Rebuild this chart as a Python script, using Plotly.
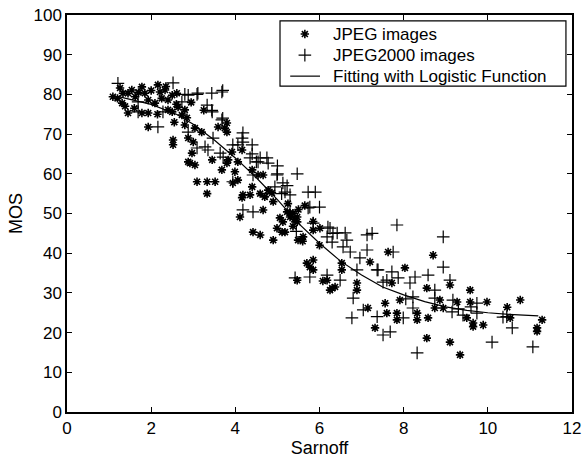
import plotly.graph_objects as go

# JPEG images (asterisk markers)
jpeg_x = [1.09, 1.26, 1.33, 1.31, 1.45, 1.54, 1.62, 1.45, 1.78, 1.93, 1.93, 1.78, 1.85, 1.93, 2.09,
          2.16, 2.21, 2.33, 2.40, 2.50, 2.61, 2.40, 2.50, 2.64, 2.80, 2.73, 2.85, 2.80, 3.04, 3.20,
          3.59, 3.75, 2.52, 2.52, 2.88, 3.00, 2.97, 3.45, 3.04, 2.92, 3.68, 3.80, 3.09, 3.33, 3.52,
          3.33, 2.88, 1.38, 1.70, 2.00, 2.25, 1.60, 2.15, 2.55, 2.60, 1.20, 2.35, 2.95, 3.25,
          3.80, 3.80, 4.16, 3.92, 3.83, 4.06, 3.99, 4.06, 3.94, 4.40, 4.54, 4.66, 4.40, 4.18, 4.35,
          4.78, 4.87, 4.70, 4.16, 4.59, 4.90, 5.23, 5.30, 5.37, 5.13, 5.11, 5.47, 5.37, 5.49, 5.61,
          5.85, 6.01, 6.00, 4.11, 4.66, 4.42, 4.59, 4.90, 4.99, 5.06, 5.18, 5.30, 5.47, 5.70, 5.85,
          5.77, 5.85, 5.47, 5.85, 5.60, 6.08, 6.25, 6.53, 6.53, 6.18, 6.37, 6.30, 6.89, 6.89, 7.20,
          7.15, 7.32, 7.56, 7.60, 7.63, 7.72, 7.91, 7.84, 7.84, 8.03, 8.32, 8.32, 8.55, 8.58, 8.55,
          8.70, 8.86, 8.74, 8.94, 9.10, 9.27, 9.10, 9.34, 9.50, 9.58, 9.58, 9.65, 9.65, 9.89, 9.98,
          10.46, 10.53, 10.77, 11.17, 11.17, 11.29, 5.65, 5.50, 5.25, 5.40]
jpeg_y = [79.4, 81.6, 80.3, 77.8, 80.3, 81.1, 79.4, 75.3, 75.3, 75.3, 71.8, 81.9, 80.3, 78.6, 77.8,
          82.4, 80.6, 81.1, 78.6, 79.8, 80.3, 76.1, 75.6, 76.8, 76.1, 74.8, 74.1, 72.3, 71.5, 70.5,
          71.8, 71.5, 68.5, 67.3, 69.0, 68.0, 65.2, 63.5, 62.2, 62.7, 61.0, 62.7, 58.0, 58.0, 58.0,
          55.0, 63.0, 77.0, 80.5, 81.0, 79.0, 76.5, 75.0, 73.0, 77.5, 79.0, 82.0, 78.0, 76.0,
          72.8, 70.5, 66.0, 65.5, 63.5, 63.0, 60.5, 58.4, 57.7, 61.0, 59.7, 59.7, 56.7, 54.7, 54.7,
          55.9, 55.2, 54.2, 54.0, 55.0, 53.0, 50.4, 49.1, 50.1, 47.9, 45.3, 47.9, 46.8, 43.3, 44.1,
          45.8, 46.3, 42.0, 49.1, 50.9, 45.3, 44.6, 43.3, 46.3, 48.9, 45.3, 50.1, 49.1, 37.5, 38.3,
          36.5, 35.8, 33.2, 48.0, 43.0, 33.0, 30.7, 37.5, 35.8, 33.2, 31.5, 31.2, 32.5, 30.7, 37.8,
          26.2, 21.2, 27.4, 24.9, 40.3, 32.5, 28.2, 24.9, 23.2, 36.3, 24.9, 23.2, 31.2, 23.7, 18.6,
          39.5, 28.2, 26.2, 26.2, 32.0, 27.7, 17.6, 14.4, 23.7, 30.7, 27.7, 22.4, 21.5, 21.9, 27.7,
          26.4, 23.7, 28.2, 21.2, 20.3, 23.2, 52.0, 51.0, 52.5, 48.5]

# JPEG2000 images (plus markers)
j2k_x = [1.21, 1.69, 1.69, 2.16, 2.52, 2.28, 2.73, 2.88, 3.11, 3.44, 3.68, 3.33, 3.45, 2.88, 3.68,
         3.94, 3.09, 3.28, 3.35, 3.64, 3.71, 3.94, 2.80, 3.09, 3.70, 3.44, 3.70, 3.47, 4.16,
         4.18, 4.18, 4.40, 4.06, 4.35, 4.54, 4.75, 4.78, 4.40, 4.59, 5.00, 5.47, 5.00, 4.50, 4.42,
         4.99, 4.94, 5.13, 5.18, 5.30, 5.73, 5.90, 5.23, 5.10, 5.77, 6.00, 4.75, 4.18, 4.42,
         5.73, 5.85, 6.18, 6.20, 6.32, 6.25, 6.42, 6.61, 6.65, 6.56, 6.73, 6.30, 5.77, 5.42, 6.18,
         6.49, 6.80, 6.77, 6.96, 7.13, 7.13, 7.25, 7.39, 6.89, 7.37, 7.04, 7.37, 7.51, 7.68, 7.75,
         7.84, 7.51, 7.72, 7.87, 7.60, 7.99, 8.15, 8.27, 8.22, 8.22, 8.58, 8.32, 8.94, 8.94, 8.74,
         8.74, 9.10, 9.17, 9.15, 9.41, 9.74, 9.74, 10.10, 10.36, 10.58, 11.07, 5.30, 5.45, 8.05,
         9.30, 9.60, 10.45]
j2k_y = [82.8, 78.1, 75.6, 71.8, 82.9, 75.6, 78.1, 79.8, 80.3, 80.3, 80.6, 77.3, 75.6, 70.5, 73.6,
         67.3, 66.5, 66.8, 66.0, 65.2, 64.2, 58.0, 80.0, 80.0, 81.0, 76.0, 74.0, 69.0, 69.0,
         68.0, 70.3, 67.3, 67.3, 64.0, 63.0, 64.0, 62.7, 65.0, 64.0, 62.0, 60.0, 60.0, 63.0, 59.7,
         59.7, 56.7, 57.7, 55.4, 54.7, 55.4, 55.4, 57.0, 55.0, 51.6, 51.6, 55.0, 50.9, 50.4,
         51.4, 47.6, 44.1, 46.6, 45.0, 46.3, 45.1, 45.1, 43.3, 41.6, 40.3, 42.8, 34.0, 33.8, 34.5,
         33.2, 28.7, 23.7, 38.8, 40.8, 44.6, 45.0, 35.8, 35.8, 35.8, 25.7, 24.0, 19.4, 20.2, 40.3,
         47.1, 32.7, 35.3, 33.8, 33.2, 23.7, 32.5, 34.0, 29.0, 26.2, 34.5, 14.9, 44.1, 36.5, 30.7,
         28.7, 33.2, 28.2, 25.2, 24.4, 27.4, 24.9, 17.6, 23.9, 21.2, 16.4, 50.5, 45.5, 28.5,
         26.0, 26.5, 24.0]

# Logistic fit curve
fit_x = [1.2, 2.0, 2.6, 3.0, 3.5, 4.0, 4.5, 5.0, 5.5, 6.0, 6.5, 7.0, 7.5, 8.0, 8.5, 9.0, 9.5, 10.0, 10.5, 11.2]
fit_y = [79.5, 77.5, 75.0, 72.5, 68.5, 64.0, 59.0, 53.5, 47.5, 42.5, 38.0, 34.5, 31.5, 29.5, 27.8, 26.5, 25.6, 25.0, 24.6, 24.2]

series_names = ["JPEG images", "JPEG2000 images", "Fitting with Logistic Function"]

FONT = "Liberation Sans, Arial, Helvetica, sans-serif"
AST = dict(symbol="asterisk-open", size=7, color="black", line=dict(color="black", width=1.6))
PLUS = dict(symbol="cross-thin-open", size=9, color="black", line=dict(color="black", width=1.2))

fig = go.Figure()
fig.add_trace(go.Scatter(x=jpeg_x, y=jpeg_y, mode="markers", name=series_names[0],
                         marker=AST, showlegend=False))
fig.add_trace(go.Scatter(x=j2k_x, y=j2k_y, mode="markers", name=series_names[1],
                         marker=PLUS, showlegend=False))
fig.add_trace(go.Scatter(x=fit_x, y=fit_y, mode="lines", name=series_names[2],
                         line=dict(color="black", width=1.2), showlegend=False))

# Legend (drawn as a box with sample glyphs on a hidden overlay axis in [0,1] units)
leg_rows = [0.952, 0.899, 0.846]
fig.add_trace(go.Scatter(x=[0.471], y=[leg_rows[0]], mode="markers", marker=AST,
                         xaxis="x2", yaxis="y2", showlegend=False, hoverinfo="skip"))
fig.add_trace(go.Scatter(x=[0.471], y=[leg_rows[1]], mode="markers", marker=PLUS,
                         xaxis="x2", yaxis="y2", showlegend=False, hoverinfo="skip"))
fig.add_trace(go.Scatter(x=[0.442, 0.501], y=[leg_rows[2], leg_rows[2]], mode="lines",
                         line=dict(color="black", width=1.2),
                         xaxis="x2", yaxis="y2", showlegend=False, hoverinfo="skip"))
fig.add_shape(type="rect", xref="paper", yref="paper", x0=0.4218, x1=0.988, y0=0.821, y1=0.985,
              line=dict(color="black", width=1.2), fillcolor="white", layer="below")
for name, yy in zip(series_names, leg_rows):
    fig.add_annotation(x=0.5228, y=yy, xref="paper", yref="paper", text=name, showarrow=False,
                       xanchor="left", yanchor="middle",
                       font=dict(family=FONT, size=17, color="black"))

axis_common = dict(
    showline=True, linecolor="black", linewidth=1.5, mirror="ticks",
    ticks="inside", ticklen=5, tickcolor="black", tickwidth=1,
    showgrid=False, zeroline=False, automargin=False, ticklabeloverflow="allow",
    tickfont=dict(family=FONT, size=17, color="black"),
)

fig.update_layout(
    width=584, height=466,
    margin=dict(l=67, r=12, t=15, b=54),
    paper_bgcolor="white", plot_bgcolor="white",
    font=dict(family=FONT, color="black"),
    showlegend=False,
    xaxis=dict(range=[0, 12], tickvals=[0, 2, 4, 6, 8, 10, 12],
               title=dict(text="Sarnoff", font=dict(family=FONT, size=18), standoff=2),
               **axis_common),
    yaxis=dict(range=[0, 100], tickvals=[0, 10, 20, 30, 40, 50, 60, 70, 80, 90, 100],
               title=dict(text="MOS", font=dict(family=FONT, size=18), standoff=6),
               **axis_common),
    xaxis2=dict(range=[0, 1], overlaying="x", visible=False, fixedrange=True),
    yaxis2=dict(range=[0, 1], overlaying="y", visible=False, fixedrange=True),
)

# remove the browser's default 8 px body margin so the figure sits at the page origin
fig.write_html("out.html", config={"displayModeBar": False},
               post_script="document.body.style.margin='0';document.body.style.overflow='hidden';")
